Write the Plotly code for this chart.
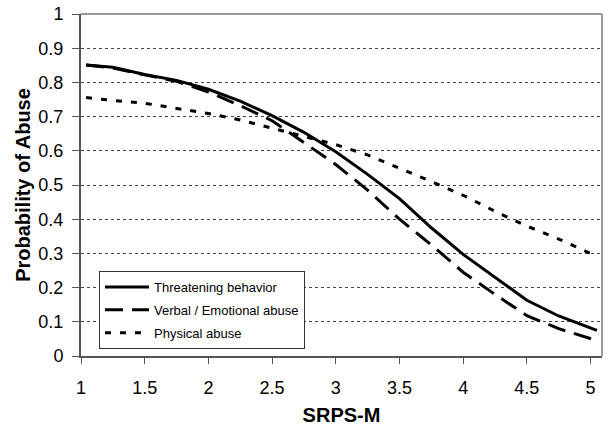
import plotly.graph_objects as go

srps_m = [1.04, 1.25, 1.5, 1.75, 2.0, 2.25, 2.5, 2.75, 3.0, 3.25, 3.5, 3.75, 4.0, 4.25, 4.5, 4.75, 5.05]
srps_m_physical = [1.04, 1.25, 1.5, 1.75, 2.0, 2.25, 2.5, 2.75, 3.0, 3.25, 3.5, 3.75, 4.0, 4.25, 4.5, 4.75, 5.0]

threatening = [0.851, 0.844, 0.823, 0.806, 0.780, 0.745, 0.703, 0.654, 0.597, 0.531, 0.460, 0.375,
               0.297, 0.229, 0.163, 0.117, 0.075]
verbal = [0.851, 0.842, 0.822, 0.803, 0.772, 0.732, 0.688, 0.625, 0.560, 0.485, 0.400, 0.325,
          0.245, 0.180, 0.118, 0.080, 0.045]
physical = [0.756, 0.747, 0.739, 0.725, 0.709, 0.690, 0.666, 0.640, 0.618, 0.588, 0.550, 0.510,
            0.470, 0.423, 0.380, 0.342, 0.300]

series_names = ["Threatening behavior", "Verbal / Emotional abuse", "Physical abuse"]
x_ticks = [1, 1.5, 2, 2.5, 3, 3.5, 4, 4.5, 5]
y_ticks = [0, 0.1, 0.2, 0.3, 0.4, 0.5, 0.6, 0.7, 0.8, 0.9, 1]
y_tick_labels = ["0", "0.1", "0.2", "0.3", "0.4", "0.5", "0.6", "0.7", "0.8", "0.9", "1"]

FONT = "Liberation Sans, Arial, sans-serif"

fig = go.Figure()
fig.add_trace(go.Scatter(x=srps_m, y=threatening, mode="lines", name=series_names[0],
                         legendgroup="a",
                         line=dict(color="black", width=3, dash="solid")))
fig.add_trace(go.Scatter(x=srps_m, y=verbal, mode="lines", name=series_names[1],
                         legendgroup="b",
                         line=dict(color="black", width=3, dash="18px,9px")))
fig.add_trace(go.Scatter(x=srps_m_physical, y=physical, mode="lines", name=series_names[2],
                         legendgroup="c",
                         line=dict(color="black", width=3, dash="6px,9px")))

# plot-area frame (top and right border)
fig.add_shape(type="line", xref="paper", yref="paper", x0=0, x1=1, y0=1, y1=1,
              line=dict(color="#999999", width=2))
fig.add_shape(type="line", xref="paper", yref="paper", x0=1, x1=1, y0=0, y1=1,
              line=dict(color="#999999", width=2))

fig.update_layout(
    width=610, height=431,
    margin=dict(l=81, r=8, t=14, b=75),
    paper_bgcolor="white", plot_bgcolor="white",
    font=dict(family=FONT, color="black"),
    showlegend=True,
    legend=dict(x=0.0345, y=0.2485, xanchor="left", yanchor="top",
                bgcolor="white", bordercolor="#333333", borderwidth=1,
                font=dict(family=FONT, size=13, color="black"),
                traceorder="grouped", tracegroupgap=3, itemwidth=44),
    xaxis=dict(range=[1, 5.09], tickvals=x_ticks, ticktext=[str(v) for v in x_ticks],
               showgrid=False, zeroline=False, automargin=False,
               showline=True, linecolor="#555555", linewidth=2,
               ticks="outside", ticklen=6, tickcolor="#555555", tickwidth=1,
               tickfont=dict(family=FONT, size=18, color="black"),
               ticklabelstandoff=8,
               title=dict(text="<b>SRPS-M</b>", font=dict(family=FONT, size=20, color="black"),
                          standoff=11)),
    yaxis=dict(range=[0, 1], tickvals=y_ticks, ticktext=y_tick_labels,
               showgrid=True, gridcolor="#444444", gridwidth=1, griddash="3px,3px",
               zeroline=False, automargin=False,
               showline=True, linecolor="#555555", linewidth=2,
               ticks="outside", ticklen=7, tickcolor="#555555", tickwidth=1,
               tickfont=dict(family=FONT, size=18, color="black"),
               ticklabelstandoff=5,
               title=dict(text="<b>Probability of Abuse</b>",
                          font=dict(family=FONT, size=20, color="black"), standoff=2)),
)

fig.write_html("out.html", config={"displayModeBar": False},
               post_script="document.body.style.margin='0';")
